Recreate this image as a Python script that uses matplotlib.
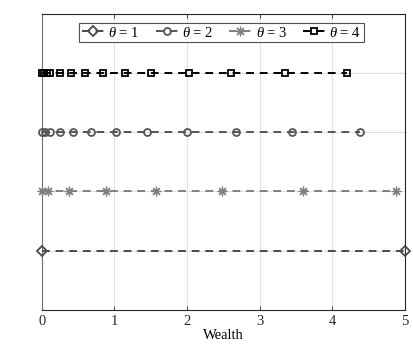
import matplotlib
matplotlib.use("Agg")
import matplotlib.pyplot as plt

plt.rcParams['font.family'] = ['Liberation Serif', 'DejaVu Serif']
plt.rcParams['mathtext.fontset'] = 'custom'
plt.rcParams['mathtext.it'] = 'Liberation Serif:italic'
plt.rcParams['mathtext.rm'] = 'Liberation Serif'

# wealth grid points for each theta, and the level each series sits at
w1 = [0.0, 5.0]
w2 = [0.0, 0.05, 0.12, 0.25, 0.43, 0.68, 1.02, 1.45, 2.0, 2.67, 3.45, 4.38]
w3 = [0.0, 0.08, 0.38, 0.89, 1.57, 2.48, 3.60, 4.88]
w4 = [0.0, 0.03, 0.07, 0.12, 0.25, 0.40, 0.59, 0.84, 1.14, 1.50, 2.03,
      2.61, 3.35, 4.20]
levels = [1, 3, 2, 4]
labels = [r'$\theta$ = 1', r'$\theta$ = 2', r'$\theta$ = 3', r'$\theta$ = 4']

series = [w1, w2, w3, w4]
markers = ['D', 'o', (8, 2, 0), 's']
colors = ['#4a4a4a', '#555555', '#808080', '#000000']
msizes = [4.8, 5.0, 7.0, 4.6]
mews = [1.3, 1.3, 0.9, 1.3]

fig = plt.figure(figsize=(4.13, 3.47), dpi=100)
ax = fig.add_axes([0.101, 0.107, 0.880, 0.853])

for w, lev, lab, m, c, ms, mew in zip(series, levels, labels, markers,
                                      colors, msizes, mews):
    ax.plot(w, [lev] * len(w), linestyle='--', dashes=(4, 3), lw=1.4,
            color=c, marker=m, markersize=ms, markerfacecolor='none',
            markeredgecolor=c, markeredgewidth=mew, label=lab,
            clip_on=False, zorder=3)

ax.set_xlim(0, 5)
ax.set_ylim(0, 5)
ax.set_xticks([0, 1, 2, 3, 4, 5])
ax.set_yticks([1, 2, 3, 4])
ax.set_yticklabels([])
ax.tick_params(direction='in', length=3, width=0.6, colors='#262626',
               labelsize=10.5, top=True, right=False)
ax.tick_params(axis='y', length=0)
ax.grid(True, color='#e0e0e0', lw=0.8)
ax.set_axisbelow(True)
for s in ax.spines.values():
    s.set_color('#262626')
    s.set_linewidth(0.8)
ax.spines['left'].set_color('#707070')

ax.set_xlabel('Wealth', fontsize=10.5, labelpad=1)

leg = ax.legend(loc='upper center', ncol=4, fontsize=10.5, frameon=True,
                fancybox=False, edgecolor='#262626', handlelength=1.5,
                handletextpad=0.3, columnspacing=1.1, borderpad=0.2,
                bbox_to_anchor=(0.495, 0.995))
leg.get_frame().set_linewidth(0.8)

fig.savefig('out.png', dpi=100)
